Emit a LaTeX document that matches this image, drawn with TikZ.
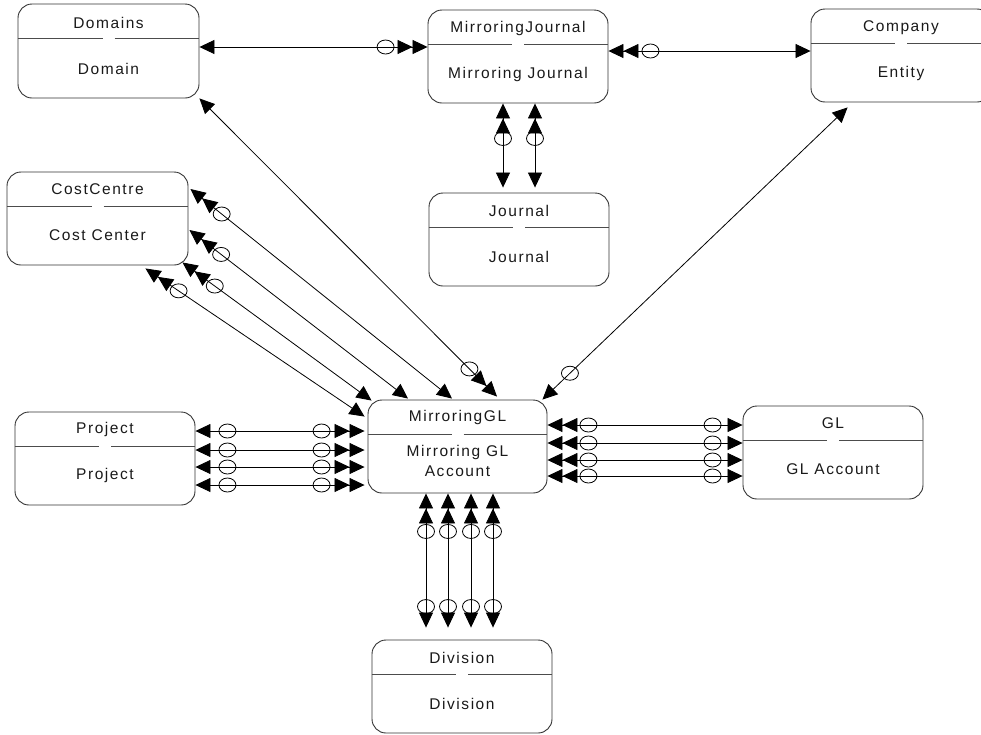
\documentclass[tikz,border=0pt]{standalone}
\usepackage{fontspec}
\setmainfont{Liberation Sans}[LetterSpace=10]
\usetikzlibrary{arrows.meta,calc,decorations.markings}
\newcommand\boxdiv[1]{\draw[divl] ($(#1.north west)+(0,35)$) -- ($(#1.north)+(-6,35)$) ($(#1.north)+(6,35)$) -- ($(#1.north east)+(0,35)$);}
\begin{document}
\begin{tikzpicture}[x=1pt,y=-1pt,
 >={Triangle[length=15pt,width=14pt,sep=0pt]},
 box/.style={draw=black!80,line width=0.9pt,rounded corners=14pt,minimum width=180pt,minimum height=93pt,inner sep=0pt},
 divl/.style={draw=black!70,line width=0.9pt},
 lbl/.style={font=\fontsize{15.5}{18}\selectfont,inner sep=0pt,text=black!90},
 conn/.style={draw,line width=0.8pt},
 circ/.style={postaction={decorate,decoration={markings,mark=at position #1 with {\pgftransformresetnontranslations\draw[-,line width=0.8pt] (0,0) ellipse [x radius=8.5pt,y radius=7pt];}}}}
]
\useasboundingbox (0,0) rectangle (981,734);
\clip (0,0) rectangle (981,734);
% boxes
\node[box,minimum width=181pt,minimum height=94pt] (dom) at (108.5,51) {};
\node[box] (mj) at (518,56.5) {};
\node[box] (comp) at (901,55.5) {};
\node[box,minimum width=181pt] (cc) at (97.5,218.5) {};
\node[box] (jour) at (519,239.5) {};
\node[box] (proj) at (105,458.5) {};
\node[box,minimum width=179pt] (mgl) at (457.5,446.5) {};
\node[box] (gl) at (833,452.5) {};
\node[box] (div) at (462,686.5) {};
\boxdiv{dom}\boxdiv{mj}\boxdiv{comp}\boxdiv{cc}\boxdiv{jour}\boxdiv{proj}\boxdiv{mgl}\boxdiv{gl}\boxdiv{div}
% labels
\node[lbl] (domt) at ($(dom.north)+(0,19)$) {Domains};
\node[lbl] (domb) at ($(dom.north)+(0,65)$) {Domain};
\node[lbl] (mjt) at ($(mj.north)+(0,19)$) {MirroringJournal};
\node[lbl] (mjb) at ($(mj.north)+(0,65)$) {Mirroring Journal};
\node[lbl] (compt) at ($(comp.north)+(0,19)$) {Company};
\node[lbl] (compb) at ($(comp.north)+(0,65)$) {Entity};
\node[lbl] (cct) at ($(cc.north)+(0,18)$) {CostCentre};
\node[lbl] (ccb) at ($(cc.north)+(0,64)$) {Cost Center};
\node[lbl] (jourt) at ($(jour.north)+(0,18)$) {Journal};
\node[lbl] (jourb) at ($(jour.north)+(0,64)$) {Journal};
\node[lbl] (projt) at ($(proj.north)+(0,18)$) {Project};
\node[lbl] (projb) at ($(proj.north)+(0,64)$) {Project};
\node[lbl] (mglt) at ($(mgl.north)+(0,18)$) {MirroringGL};
\node[lbl] (mglb) at ($(mgl.north)+(0,53)$) {Mirroring GL};
\node[lbl] (mglc) at ($(mgl.north)+(0,72)$) {Account};
\node[lbl] (glt) at ($(gl.north)+(0,18)$) {GL};
\node[lbl] (glb) at ($(gl.north)+(0,64)$) {GL Account};
\node[lbl] (divt) at ($(div.north)+(0,18)$) {Division};
\node[lbl] (divb) at ($(div.north)+(0,64)$) {Division};
% connectors
\draw[conn,<->>,circ=-42pt] ($(dom.east)+(0,-4)$) -- ($(mj.west)+(0,-9.5)$);
\draw[conn,<<->,circ=42pt] ($(mj.east)+(0,-5.5)$) -- ($(comp.west)+(0,-4.5)$);
\draw[conn,<<->,circ=35pt] ($(mj.south)+(-15,0)$) -- ($(jour.north)+(-16,-5)$);
\draw[conn,<<->,circ=35pt] ($(mj.south)+(17,0)$) -- ($(jour.north)+(16,-5)$);
\draw[conn,<->>,circ=-39pt] (dom.south east) -- ($(mgl.north)+(39.5,-3)$);
\draw[conn,<->,circ=-38pt] ($(comp.south west)+(37,5)$) -- ($(mgl.north east)+(-5,0)$);
% cost centre
\draw[conn,<<->,circ=40pt] ($(cc.east)+(2,-29.5)$) -- ($(mgl.north)+(-5.5,-1)$);
\draw[conn,<<->,circ=40pt] ($(cc.east)+(1,11.5)$) -- ($(mgl.north)+(-49.5,-1)$);
\draw[conn,<<->,circ=40pt] ($(cc.south east)+(-6,-3)$) -- ($(mgl.north west)+(4,1)$);
\draw[conn,<<->,circ=40pt] ($(cc.south east)+(-43,3)$) -- ($(mgl.north west)+(-3,17)$);
% project
\draw[conn,<->>,circ=32pt,circ=-43pt] ($(proj.east)+(0,-27.5)$) -- ($(mgl.west)+(-3,-15.5)$);
\draw[conn,<->>,circ=32pt,circ=-43pt] ($(proj.east)+(0,-8.5)$) -- ($(mgl.west)+(-3,3.5)$);
\draw[conn,<->>,circ=32pt,circ=-43pt] ($(proj.east)+(0,8.5)$) -- ($(mgl.west)+(-3,20.5)$);
\draw[conn,<->>,circ=32pt,circ=-43pt] ($(proj.east)+(0,26.5)$) -- ($(mgl.west)+(-3,38.5)$);
% GL
\draw[conn,<<->,circ=41pt,circ=-30pt] ($(mgl.east)+(0,-21.5)$) -- ($(gl.west)+(0,-27.5)$);
\draw[conn,<<->,circ=41pt,circ=-30pt] ($(mgl.east)+(0,-3.5)$) -- ($(gl.west)+(0,-9.5)$);
\draw[conn,<<->,circ=41pt,circ=-30pt] ($(mgl.east)+(0,13.5)$) -- ($(gl.west)+(0,7.5)$);
\draw[conn,<<->,circ=41pt,circ=-30pt] ($(mgl.east)+(0,29.5)$) -- ($(gl.west)+(0,23.5)$);
% division
\draw[conn,<<->,circ=38pt,circ=-21pt] ($(mgl.south)+(-31.5,0)$) -- ($(div.north)+(-36,-12)$);
\draw[conn,<<->,circ=38pt,circ=-21pt] ($(mgl.south)+(-9.5,0)$) -- ($(div.north)+(-14,-12)$);
\draw[conn,<<->,circ=38pt,circ=-21pt] ($(mgl.south)+(13.5,0)$) -- ($(div.north)+(9,-12)$);
\draw[conn,<<->,circ=38pt,circ=-21pt] ($(mgl.south)+(35.5,0)$) -- ($(div.north)+(31,-12)$);
\end{tikzpicture}
\end{document}
